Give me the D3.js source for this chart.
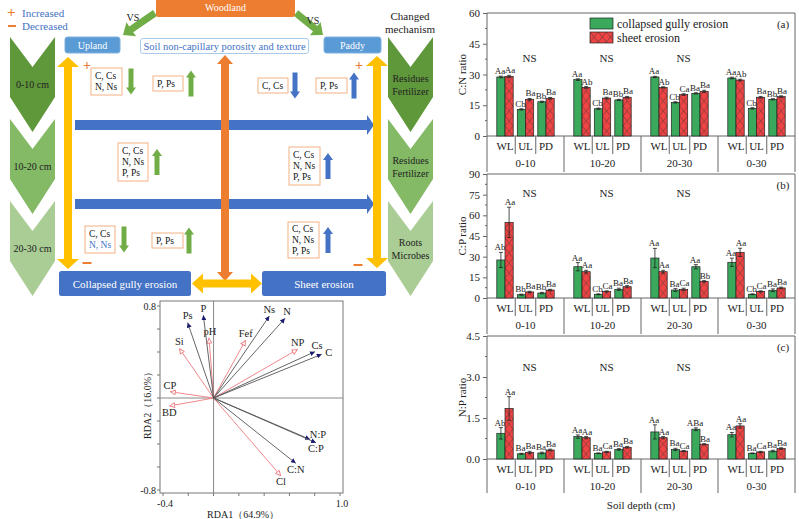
<!DOCTYPE html>
<html>
<head>
<meta charset="utf-8">
<script src="https://cdn.jsdelivr.net/npm/d3@7"></script>
<style>
  body { margin: 0; background: #fff; }
  svg { display: block; }
  text { font-family: "Liberation Serif", "Times New Roman", serif; }
</style>
</head>
<body>
<svg id="fig" width="799" height="519"></svg>
<script>
// ---- bar chart data ----
const depths = ['0-10', '10-20', '20-30', '0-30'];
const landUses = ['WL', 'UL', 'PD'];
const nsDepths = ['0-10', '10-20', '20-30'];

// C:N ratio
const cnGully = [28.8, 13.0, 16.7, 27.5, 13.3, 17.6, 28.8, 16.4, 20.8, 28.3, 13.5, 17.9];
const cnSheet = [29.1, 17.9, 18.4, 23.7, 18.5, 18.9, 23.7, 20.2, 21.8, 27.3, 18.9, 19.2];
const cnGullyErr = [0.4, 0.3, 0.3, 0.4, 0.3, 0.3, 0.3, 0.3, 0.3, 0.4, 0.3, 0.3];
const cnSheetErr = [0.5, 0.4, 0.4, 0.4, 0.4, 0.4, 0.3, 0.4, 0.5, 0.4, 0.4, 0.4];
const cnGullyLet = ['Aa', 'Cb', 'Bb', 'Aa', 'Cb', 'Bb', 'Aa', 'Cb', 'Ba', 'Aa', 'Cb', 'Bb'];
const cnSheetLet = ['Aa', 'Ba', 'Ba', 'Ab', 'Ba', 'Ba', 'Ab', 'Ca', 'Ba', 'Ab', 'Ba', 'Ba'];

// C:P ratio
const cpGully = [27.6, 2.4, 3.6, 22.7, 2.7, 6.3, 29.0, 5.8, 22.7, 25.9, 2.7, 5.6];
const cpSheet = [54.9, 4.4, 5.8, 19.1, 4.8, 8.2, 19.1, 6.3, 12.1, 33.1, 4.8, 7.3];
const cpGullyErr = [5.5, 0.4, 0.5, 3.0, 0.3, 0.8, 7.0, 1.0, 1.5, 3.0, 0.3, 1.0];
const cpSheetErr = [11.0, 0.5, 0.5, 1.0, 0.4, 0.8, 1.0, 0.8, 0.5, 3.0, 0.4, 0.6];
const cpGullyLet = ['Ab', 'Bb', 'Bb', 'Aa', 'Cb', 'Ba', 'Aa', 'Ba', 'Aa', 'Aa', 'Cb', 'Ba'];
const cpSheetLet = ['Aa', 'Ba', 'Ba', 'Aa', 'Ca', 'Ba', 'Aa', 'Ca', 'Bb', 'Aa', 'Ca', 'Ba'];

// N:P ratio
const npGully = [0.94, 0.19, 0.22, 0.82, 0.21, 0.35, 0.99, 0.35, 1.09, 0.89, 0.21, 0.29];
const npSheet = [1.85, 0.24, 0.33, 0.78, 0.26, 0.43, 0.78, 0.29, 0.54, 1.21, 0.26, 0.38];
const npGullyErr = [0.21, 0.02, 0.03, 0.06, 0.01, 0.03, 0.26, 0.04, 0.05, 0.08, 0.01, 0.03];
const npSheetErr = [0.43, 0.04, 0.03, 0.04, 0.02, 0.03, 0.04, 0.02, 0.02, 0.08, 0.02, 0.03];
const npGullyLet = ['Ab', 'Ba', 'Ba', 'Aa', 'Ba', 'Ba', 'Aa', 'Ba', 'ABa', 'Aa', 'Ba', 'Ba'];
const npSheetLet = ['Aa', 'Ba', 'Ba', 'Aa', 'Ca', 'Ba', 'Aa', 'Ca', 'Ba', 'Aa', 'Ca', 'Ba'];

const cnTicks = [0, 15, 30, 45, 60];
const cpTicks = [0, 15, 30, 45, 60, 75, 90];
const npTicks = [0, 1.5, 3.0, 4.5];

// ---- RDA data ----
const respNames = ['Ps', 'P', 'Ns', 'N', 'Cs', 'C', 'N:P', 'C:P', 'C:N'];
const respX = [-0.205, -0.081, 0.441, 0.565, 0.802, 0.855, 0.763, 0.81, 0.65];
const respY = [0.655, 0.72, 0.713, 0.693, 0.403, 0.38, -0.36, -0.389, -0.568];
const explNames = ['Si', 'pH', 'Fef', 'NP', 'CP', 'BD', 'Cl'];
const explX = [-0.271, -0.036, 0.254, 0.665, -0.345, -0.35, 0.533];
const explY = [0.432, 0.524, 0.504, 0.423, 0.055, -0.07, -0.678];

// Colors
const colors = {
  green: '#3aa95c',
  red: '#f04444',
  orange: '#ed7d31',
  yellow: '#ffc000',
  blue: '#4472c4',
  lightBlue: '#5b9bd5',
  arrowGreen: '#70ad47',
  boxBorder: '#f4b183',
  chev: ['#5f973b', '#84b966', '#a9cd94']
};

const svg = d3.select('#fig');
const defs = svg.append('defs');

// ---------- helpers ----------
function blockArrow(x1, y1, x2, y2, sw, hw, hl, both) {
  const len = Math.hypot(x2 - x1, y2 - y1);
  const ux = (x2 - x1) / len, uy = (y2 - y1) / len;
  const nx = -uy, ny = ux;
  const p = (x, y, a, b) => [x + ux * a + nx * b, y + uy * a + ny * b];
  let pts;
  if (both) {
    pts = [p(x1, y1, 0, 0), p(x1, y1, hl, hw / 2), p(x1, y1, hl, sw / 2),
      p(x2, y2, -hl, sw / 2), p(x2, y2, -hl, hw / 2), p(x2, y2, 0, 0),
      p(x2, y2, -hl, -hw / 2), p(x2, y2, -hl, -sw / 2),
      p(x1, y1, hl, -sw / 2), p(x1, y1, hl, -hw / 2)];
  } else {
    pts = [p(x1, y1, 0, sw / 2), p(x2, y2, -hl, sw / 2), p(x2, y2, -hl, hw / 2),
      p(x2, y2, 0, 0), p(x2, y2, -hl, -hw / 2), p(x2, y2, -hl, -sw / 2), p(x1, y1, 0, -sw / 2)];
  }
  return 'M' + pts.map(d => d.join(',')).join('L') + 'Z';
}

function chevron(x0, x1, top) {
  const xc = (x0 + x1) / 2;
  return `M${x0},${top}L${xc},${top + 30}L${x1},${top}L${x1},${top + 60}L${xc},${top + 95}L${x0},${top + 60}Z`;
}

// ---------- left diagram ----------
const dg = svg.append('g');

// legend of signs
dg.append('text').attr('x', 7).attr('y', 17).attr('fill', colors.orange)
  .attr('font-size', 15).attr('font-weight', 'bold').text('+');
dg.append('text').attr('x', 22).attr('y', 17).attr('fill', colors.blue).attr('font-size', 11).text('Increased');
dg.append('rect').attr('x', 8).attr('y', 25).attr('width', 8).attr('height', 2).attr('fill', colors.orange);
dg.append('text').attr('x', 22).attr('y', 30).attr('fill', colors.blue).attr('font-size', 11).text('Decreased');

// chevrons
const depthLabels = ['0-10 cm', '10-20 cm', '20-30 cm'];
const mechLabels = [['Residues', 'Fertilizer'], ['Residues', 'Fertilizer'], ['Roots', 'Microbes']];
const chevTops = [37, 119, 201];
chevTops.forEach((t, i) => {
  dg.append('path').attr('d', chevron(10, 55, t)).attr('fill', colors.chev[i]);
  dg.append('path').attr('d', chevron(388, 433, t)).attr('fill', colors.chev[i]);
  dg.append('text').attr('x', 32.5).attr('y', t + 47).attr('text-anchor', 'middle')
    .attr('dominant-baseline', 'central').attr('font-size', 10).attr('fill', '#222').text(depthLabels[i]);
  mechLabels[i].forEach((s, j) => {
    dg.append('text').attr('x', 410.5).attr('y', t + 41 + j * 13).attr('text-anchor', 'middle')
      .attr('dominant-baseline', 'central').attr('font-size', 10).attr('fill', '#222').text(s);
  });
});
dg.append('text').attr('x', 410).attr('y', 16).attr('text-anchor', 'middle')
  .attr('dominant-baseline', 'central').attr('font-size', 11).attr('fill', '#222').text('Changed');
dg.append('text').attr('x', 410).attr('y', 29).attr('text-anchor', 'middle')
  .attr('dominant-baseline', 'central').attr('font-size', 11).attr('fill', '#222').text('mechanism');

// blue horizontal arrows
[125, 204].forEach(y => {
  dg.append('path').attr('d', blockArrow(75, y, 374, y, 10, 20, 7)).attr('fill', colors.blue);
});

// orange vertical double arrow
dg.append('path').attr('d', blockArrow(225, 55, 225, 281, 8, 16, 9, true)).attr('fill', colors.orange);

// yellow arrows
dg.append('path').attr('d', blockArrow(68, 57, 68, 269, 8, 22, 10, true)).attr('fill', colors.yellow);
dg.append('path').attr('d', blockArrow(377, 56, 377, 268, 8, 22, 10, true)).attr('fill', colors.yellow);
dg.append('path').attr('d', blockArrow(192, 283.5, 262, 283.5, 8, 20, 11, true)).attr('fill', colors.yellow);

// green diagonal arrows
dg.append('path').attr('d', blockArrow(155, 13, 123, 35, 7, 17, 10)).attr('fill', colors.arrowGreen);
dg.append('path').attr('d', blockArrow(296, 13, 323, 35, 7, 17, 10)).attr('fill', colors.arrowGreen);
dg.append('text').attr('x', 133).attr('y', 17).attr('text-anchor', 'middle')
  .attr('dominant-baseline', 'central').attr('font-size', 10).attr('fill', '#222').text('VS');
dg.append('text').attr('x', 313).attr('y', 20).attr('text-anchor', 'middle')
  .attr('dominant-baseline', 'central').attr('font-size', 10).attr('fill', '#222').text('VS');

// boxes
function box(x, y, w, h, fill, label, textColor, fs, stroke) {
  dg.append('rect').attr('x', x).attr('y', y).attr('width', w).attr('height', h).attr('rx', 2.5)
    .attr('fill', fill).attr('stroke', stroke || 'none').attr('stroke-width', 1);
  dg.append('text').attr('x', x + w / 2).attr('y', y + h / 2).attr('text-anchor', 'middle')
    .attr('dominant-baseline', 'central').attr('font-size', fs).attr('fill', textColor).text(label);
}
box(156, -3, 139, 20, colors.orange, 'Woodland', '#fff', 10);
box(65, 37, 55, 16, colors.lightBlue, 'Upland', '#fff', 10, '#7fb0de');
box(324, 37, 57, 16, colors.lightBlue, 'Paddy', '#fff', 10, '#7fb0de');
box(140.5, 38.5, 168, 15, '#fff', 'Soil non-capillary porosity and texture', colors.blue, 10.5, '#a9cbea');
box(59, 271, 132, 25, colors.blue, 'Collapsed gully erosion', '#fff', 11);
box(262, 271, 124, 25, colors.blue, 'Sheet erosion', '#fff', 11);

// +/- markers
[[87, 65], [359, 65]].forEach(([x, y]) => {
  dg.append('text').attr('x', x).attr('y', y).attr('text-anchor', 'middle').attr('dominant-baseline', 'central')
    .attr('fill', colors.orange).attr('font-size', 14).attr('font-weight', 'bold').text('+');
});
[[87, 263], [358, 265]].forEach(([x, y]) => {
  dg.append('rect').attr('x', x - 4.5).attr('y', y - 1).attr('width', 9).attr('height', 2).attr('fill', colors.orange);
});

// element boxes with small arrows
const elemBoxes = [
  { x: 91, y: 68, w: 31, h: 27, lines: [['C, Cs'], ['N, Ns']], ax: 131, up: false, col: colors.arrowGreen },
  { x: 153, y: 76, w: 30, h: 15, lines: [['P, Ps']], ax: 191, up: true, col: colors.arrowGreen },
  { x: 258, y: 78, w: 30, h: 15, lines: [['C, Cs']], ax: 295, up: false, col: colors.blue },
  { x: 316, y: 78, w: 31, h: 15, lines: [['P, Ps']], ax: 354, up: true, col: colors.blue },
  { x: 118, y: 143, w: 30, h: 38, lines: [['C, Cs'], ['N, Ns'], ['P, Ps']], ax: 157, up: true, col: colors.arrowGreen },
  { x: 289, y: 147, w: 31, h: 38, lines: [['C, Cs'], ['N, Ns'], ['P, Ps']], ax: 328, up: true, col: colors.blue },
  { x: 85, y: 226, w: 30, h: 27, lines: [['C, Cs'], ['N, Ns', colors.blue]], ax: 124, up: false, col: colors.arrowGreen },
  { x: 152, y: 233, w: 31, h: 15, lines: [['P, Ps']], ax: 189, up: true, col: colors.arrowGreen },
  { x: 288, y: 222, w: 31, h: 36, lines: [['C, Cs'], ['N, Ns'], ['P, Ps']], ax: 328, up: true, col: colors.blue }
];
elemBoxes.forEach(b => {
  dg.append('rect').attr('x', b.x).attr('y', b.y).attr('width', b.w).attr('height', b.h)
    .attr('fill', '#fff').attr('stroke', colors.boxBorder).attr('stroke-width', 1);
  const n = b.lines.length;
  b.lines.forEach((l, i) => {
    dg.append('text').attr('x', b.x + 4).attr('y', b.y + b.h / 2 + (i - (n - 1) / 2) * 11)
      .attr('dominant-baseline', 'central').attr('font-size', 9.5).attr('fill', l[1] || '#111').text(l[0]);
  });
  const ay0 = b.y + b.h / 2 - 13, ay1 = b.y + b.h / 2 + 13;
  const d = b.up ? blockArrow(b.ax, ay1, b.ax, ay0, 5, 10, 7) : blockArrow(b.ax, ay0, b.ax, ay1, 5, 10, 7);
  dg.append('path').attr('d', d).attr('fill', b.col);
});

// ---------- RDA plot ----------
const rx = d3.scaleLinear().domain([-0.4, 1.0]).range([163, 340]);
const ry = d3.scaleLinear().domain([-0.8, 0.8]).range([490, 306]);
const rg = svg.append('g');
rg.append('rect').attr('x', 160).attr('y', 301).attr('width', 183).attr('height', 192)
  .attr('fill', 'none').attr('stroke', '#777').attr('stroke-width', 1);
rg.append('line').attr('x1', rx(0)).attr('x2', rx(0)).attr('y1', 301).attr('y2', 493).attr('stroke', '#888');
rg.append('line').attr('x1', 160).attr('x2', 343).attr('y1', ry(0)).attr('y2', ry(0)).attr('stroke', '#888');
d3.range(-0.4, 1.01, 0.2).forEach(v => {
  rg.append('line').attr('x1', rx(v)).attr('x2', rx(v)).attr('y1', 493).attr('y2', 496).attr('stroke', '#777');
});
d3.range(-0.8, 0.81, 0.2).forEach(v => {
  rg.append('line').attr('x1', 157).attr('x2', 160).attr('y1', ry(v)).attr('y2', ry(v)).attr('stroke', '#777');
});
[[0.8, '0.8'], [-0.8, '-0.8']].forEach(([v, s]) => {
  rg.append('text').attr('x', 156).attr('y', ry(v)).attr('text-anchor', 'end').attr('dominant-baseline', 'central')
    .attr('font-size', 10).attr('fill', '#222').text(s);
});
[[-0.4, '-0.4'], [1.0, '1.0']].forEach(([v, s]) => {
  rg.append('text').attr('x', rx(v) + 2).attr('y', 503).attr('text-anchor', 'middle').attr('dominant-baseline', 'central')
    .attr('font-size', 10).attr('fill', '#222').text(s);
});
rg.append('text').attr('x', 243).attr('y', 514).attr('text-anchor', 'middle').attr('dominant-baseline', 'central')
  .attr('font-size', 10).attr('fill', '#222').text('RDA1（64.9%）');
rg.append('text').attr('transform', 'translate(147,403) rotate(-90)').attr('text-anchor', 'middle')
  .attr('dominant-baseline', 'central').attr('font-size', 10).attr('fill', '#222').text('RDA2（16.0%）');

const mk1 = defs.append('marker').attr('id', 'headResp').attr('viewBox', '0 0 10 10').attr('refX', 10).attr('refY', 5)
  .attr('markerWidth', 5).attr('markerHeight', 5).attr('markerUnits', 'userSpaceOnUse').attr('orient', 'auto');
mk1.append('path').attr('d', 'M0,0L10,5L0,10Z').attr('fill', '#1a1a6e');
const mk2 = defs.append('marker').attr('id', 'headExpl').attr('viewBox', '0 0 10 10').attr('refX', 10).attr('refY', 5)
  .attr('markerWidth', 6).attr('markerHeight', 6).attr('markerUnits', 'userSpaceOnUse').attr('orient', 'auto');
mk2.append('path').attr('d', 'M1,1L9,5L1,9Z').attr('fill', '#fff').attr('stroke', '#f07a80').attr('stroke-width', 1.5);

const labelNudge = {
  Ps: [0, -7], P: [0, -7], Ns: [0, -7], N: [2, -7], Cs: [2, -6], C: [7, -2], 'N:P': [8, -5], 'C:P': [0, 6], 'C:N': [0, 6],
  Si: [0, -7], pH: [1, -6], Fef: [0, -7], NP: [0, -7], CP: [0, -6], BD: [0, 6], Cl: [0, 6]
};
function drawVectors(names, xs, ys, stroke, marker) {
  names.forEach((n, i) => {
    rg.append('line').attr('x1', rx(0)).attr('y1', ry(0)).attr('x2', rx(xs[i])).attr('y2', ry(ys[i]))
      .attr('stroke', stroke).attr('stroke-width', 0.9).attr('marker-end', `url(#${marker})`);
    const o = labelNudge[n];
    rg.append('text').attr('x', rx(xs[i]) + o[0]).attr('y', ry(ys[i]) + o[1]).attr('text-anchor', 'middle')
      .attr('dominant-baseline', 'central').attr('font-size', 10.5).attr('fill', '#222').text(n);
  });
}
drawVectors(explNames, explX, explY, '#f07a80', 'headExpl');
drawVectors(respNames, respX, respY, '#555', 'headResp');

// ---------- bar panels ----------
const xg = d3.scaleBand().domain(depths).range([487, 795]);
const xc = d3.scaleBand().domain(landUses).range([0, xg.bandwidth()]).paddingOuter(0.378);
const bw = 8.2;

const panels = [
  { tag: '(a)', title: 'C:N ratio', top: 13, base: 136, bottom: 172, max: 60, ticks: cnTicks, fmt: d3.format('d'),
    g: cnGully, s: cnSheet, ge: cnGullyErr, se: cnSheetErr, gl: cnGullyLet, sl: cnSheetLet, ns: 38, legend: true },
  { tag: '(b)', title: 'C:P ratio', top: 174, base: 298, bottom: 334, max: 90, ticks: cpTicks, fmt: d3.format('d'),
    g: cpGully, s: cpSheet, ge: cpGullyErr, se: cpSheetErr, gl: cpGullyLet, sl: cpSheetLet, ns: 76 },
  { tag: '(c)', title: 'N:P ratio', top: 336, base: 459, bottom: 493, max: 4.5, ticks: npTicks, fmt: d3.format('.1f'),
    g: npGully, s: npSheet, ge: npGullyErr, se: npSheetErr, gl: npGullyLet, sl: npSheetLet, ns: 3.37 }
];

let hatchId = 0;
function hatch(x, y) {
  const id = 'hatch' + (hatchId++);
  const p = defs.append('pattern').attr('id', id).attr('patternUnits', 'userSpaceOnUse')
    .attr('x', x).attr('y', y).attr('width', bw).attr('height', 10);
  p.append('rect').attr('width', bw).attr('height', 10).attr('fill', colors.red);
  p.append('path').attr('d', `M0,0L${bw},10M${bw},0L0,10`).attr('stroke', '#333').attr('stroke-width', 0.5);
  return `url(#${id})`;
}

panels.forEach(P => {
  const y = d3.scaleLinear().domain([0, P.max]).range([P.base, P.top]);
  const g = svg.append('g');
  const ink = '#666';

  // frame
  g.append('line').attr('x1', 487).attr('x2', 795).attr('y1', P.top).attr('y2', P.top).attr('stroke', ink);
  g.append('line').attr('x1', 795).attr('x2', 795).attr('y1', P.top).attr('y2', P.bottom).attr('stroke', ink);

  // y axis
  const ax = g.append('g').attr('transform', 'translate(487,0)')
    .call(d3.axisLeft(y).tickValues(P.ticks).tickFormat(P.fmt).tickSize(4).tickPadding(3));
  ax.select('.domain').remove();
  ax.selectAll('line').attr('stroke', ink);
  ax.selectAll('text').attr('font-family', '"Liberation Serif", serif').attr('font-size', 11).attr('fill', '#222');
  const step = P.ticks[1] - P.ticks[0];
  P.ticks.slice(0, -1).forEach(t => {
    g.append('line').attr('x1', 485).attr('x2', 487).attr('y1', y(t + step / 2)).attr('y2', y(t + step / 2)).attr('stroke', ink);
  });
  g.append('line').attr('x1', 487).attr('x2', 487).attr('y1', P.top).attr('y2', P.bottom).attr('stroke', ink);
  g.append('text').attr('transform', `translate(462,${(P.top + P.base) / 2}) rotate(-90)`).attr('text-anchor', 'middle')
    .attr('dominant-baseline', 'central').attr('font-size', 11).attr('fill', '#222').text(P.title);

  // baseline
  g.append('line').attr('x1', 487).attr('x2', 795).attr('y1', P.base).attr('y2', P.base).attr('stroke', ink);

  // bars
  depths.forEach((d, di) => {
    landUses.forEach((l, li) => {
      const i = di * 3 + li;
      const cx = xg(d) + xc(l) + xc.bandwidth() / 2;
      const pairs = [
        { x: cx - bw, v: P.g[i], e: P.ge[i], t: P.gl[i], fill: colors.green, dx: -0.8 },
        { x: cx, v: P.s[i], e: P.se[i], t: P.sl[i], fill: null, dx: 0.8 }
      ];
      pairs.forEach(b => {
        g.append('rect').attr('x', b.x).attr('y', y(b.v)).attr('width', bw).attr('height', P.base - y(b.v))
          .attr('fill', b.fill || hatch(b.x, P.base)).attr('stroke', '#222').attr('stroke-width', 0.7);
        const mx = b.x + bw / 2;
        g.append('line').attr('x1', mx).attr('x2', mx).attr('y1', y(b.v + b.e)).attr('y2', y(b.v - b.e))
          .attr('stroke', '#222').attr('stroke-width', 0.8);
        [b.v + b.e, b.v - b.e].forEach(v => {
          g.append('line').attr('x1', mx - 2).attr('x2', mx + 2).attr('y1', y(v)).attr('y2', y(v))
            .attr('stroke', '#222').attr('stroke-width', 0.8);
        });
        g.append('text').attr('x', mx + b.dx).attr('y', y(b.v + b.e) - 2).attr('text-anchor', 'middle')
          .attr('font-size', 9).attr('fill', '#222').text(b.t);
      });
      g.append('text').attr('x', cx).attr('y', P.base + 10).attr('text-anchor', 'middle')
        .attr('dominant-baseline', 'central').attr('font-size', 11).attr('fill', '#222').text(l);
      if (li > 0) {
        const sx = xg(d) + xc(l);
        g.append('line').attr('x1', sx).attr('x2', sx).attr('y1', P.base).attr('y2', P.base + 18).attr('stroke', ink);
      }
    });
    g.append('text').attr('x', xg(d) + xg.bandwidth() / 2).attr('y', P.base + 27).attr('text-anchor', 'middle')
      .attr('dominant-baseline', 'central').attr('font-size', 11).attr('fill', '#222').text(d);
    if (di > 0) {
      g.append('line').attr('x1', xg(d)).attr('x2', xg(d)).attr('y1', P.base).attr('y2', P.bottom).attr('stroke', ink);
    }
  });

  // NS
  nsDepths.forEach(d => {
    g.append('text').attr('x', xg(d) + xg.bandwidth() / 2 + 4).attr('y', y(P.ns)).attr('text-anchor', 'middle')
      .attr('dominant-baseline', 'central').attr('font-size', 11).attr('fill', '#222').text('NS');
  });

  g.append('text').attr('x', 783).attr('y', P.top + 11).attr('text-anchor', 'middle')
    .attr('dominant-baseline', 'central').attr('font-size', 11).attr('fill', '#222').text(P.tag);

  if (P.legend) {
    g.append('rect').attr('x', 590).attr('y', 18).attr('width', 23).attr('height', 11)
      .attr('fill', colors.green).attr('stroke', '#222').attr('stroke-width', 0.7);
    g.append('rect').attr('x', 590).attr('y', 32).attr('width', 23).attr('height', 11)
      .attr('fill', hatch(590, 32)).attr('stroke', '#222').attr('stroke-width', 0.7);
    g.append('text').attr('x', 617).attr('y', 24).attr('dominant-baseline', 'central')
      .attr('font-size', 12).attr('fill', '#222').text('collapsed gully erosion');
    g.append('text').attr('x', 617).attr('y', 37.5).attr('dominant-baseline', 'central')
      .attr('font-size', 12).attr('fill', '#222').text('sheet erosion');
  }
});

svg.append('text').attr('x', 641).attr('y', 505).attr('text-anchor', 'middle').attr('dominant-baseline', 'central')
  .attr('font-size', 11).attr('fill', '#222').text('Soil depth (cm)');
</script>
</body>
</html>
